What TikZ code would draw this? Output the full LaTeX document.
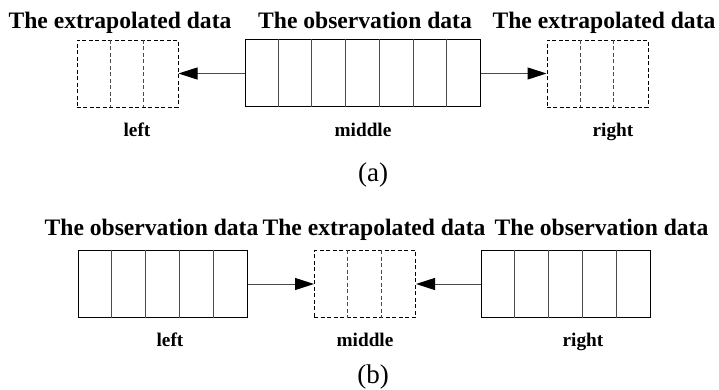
\documentclass[tikz,border=0pt]{standalone}
\usepackage{fontspec}
\setmainfont{Liberation Serif}
\usetikzlibrary{arrows.meta}

\definecolor{linegray}{HTML}{4A4A4A}

\tikzset{
	obsbox/.style={draw=black, line width=1pt, inner sep=0pt, minimum height=\cellH},
	extbox/.style={draw=black, line width=0.9pt, dash pattern=on 4pt off 2.5pt, inner sep=0pt, minimum height=\cellH},
	divider/.style={draw=linegray, line width=1pt},
	dashdiv/.style={draw=linegray, line width=0.9pt, dash pattern=on 4pt off 2.5pt},
	link/.style={draw=linegray, line width=1pt, -{Triangle[length=19pt,width=12pt,color=black]}},
	title/.style={font=\fontsize{23.6}{26}\selectfont\bfseries, anchor=base, inner sep=0pt},
	side/.style={font=\fontsize{19.3}{22}\selectfont\bfseries, anchor=base, inner sep=0pt},
	caption/.style={font=\fontsize{27}{30}\selectfont, anchor=base, inner sep=0pt}
}

\begin{document}
\begin{tikzpicture}[x=1pt, y=-1pt]
		\def\cellW{33.7} % width of one cell
		\def\cellH{67} % height of every box
		
		\useasboundingbox (0,0) rectangle (719,390);
		
		% (a): observation in the middle, extrapolated on both sides
		\node[extbox, minimum width=3*\cellW] (aleft) at (127.5,73.5) {};
		\node[obsbox, minimum width=7*\cellW] (amid) at (363,73.5) {};
		\node[extbox, minimum width=3*\cellW] (aright) at (597.5,73.5) {};
		
		\foreach \k in {1, 2} {
			\draw[dashdiv] ([xshift=\k*\cellW]aleft.north west) -- ([xshift=\k*\cellW]aleft.south west);
			\draw[dashdiv] ([xshift=\k*\cellW]aright.north west) -- ([xshift=\k*\cellW]aright.south west);
		}
		\foreach \k in {1, 2, ..., 6} {
			\draw[divider] ([xshift=\k*\cellW]amid.north west) -- ([xshift=\k*\cellW]amid.south west);
		}
		
		\draw[link] (amid.west) -- (aleft.east);
		\draw[link] (amid.east) -- (aright.west);
		
		\node[title] (atitleL) at (120,29) {The extrapolated data};
		\node[title] (atitleM) at (365,29) {The observation data};
		\node[title] (atitleR) at (604,29) {The extrapolated data};
		
		\node[side] (asideL) at (137,137) {left};
		\node[side] (asideM) at (363,137) {middle};
		\node[side] (asideR) at (613,137) {right};
		
		\node[caption] (capA) at (373,182) {(a)};
		
		% (b): extrapolated in the middle, observation on both sides
		\node[obsbox, minimum width=5*\cellW] (bleft) at (163,284) {};
		\node[extbox, minimum width=3*\cellW] (bmid) at (365,284) {};
		\node[obsbox, minimum width=5*\cellW] (bright) at (566,284) {};
		
		\foreach \k in {1, 2, ..., 4} {
			\draw[divider] ([xshift=\k*\cellW]bleft.north west) -- ([xshift=\k*\cellW]bleft.south west);
			\draw[divider] ([xshift=\k*\cellW]bright.north west) -- ([xshift=\k*\cellW]bright.south west);
		}
		\foreach \k in {1, 2} {
			\draw[dashdiv] ([xshift=\k*\cellW]bmid.north west) -- ([xshift=\k*\cellW]bmid.south west);
		}
		
		\draw[link] (bleft.east) -- (bmid.west);
		\draw[link] (bright.west) -- (bmid.east);
		
		\node[title] (btitleL) at (151.5,235) {The observation data};
		\node[title] (btitleM) at (374,235) {The extrapolated data};
		\node[title] (btitleR) at (601.5,235) {The observation data};
		
		\node[side] (bsideL) at (170,346) {left};
		\node[side] (bsideM) at (365,346) {middle};
		\node[side] (bsideR) at (583,346) {right};
		
		\node[caption] (capB) at (373,383) {(b)};
	\end{tikzpicture}
\end{document}
